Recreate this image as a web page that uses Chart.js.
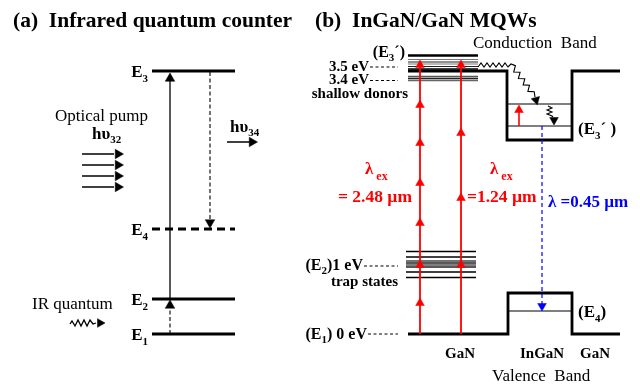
<!DOCTYPE html>
<html><head><meta charset="utf-8">
<script src="https://cdn.jsdelivr.net/npm/chart.js@4"></script>
<style>html,body{margin:0;padding:0;background:#fff}canvas{display:block}</style>
</head><body><canvas id="c" width="640" height="388"></canvas>
<script>
// ================= DATA (diagram units: x 0..640, y 0..388 downward) =================
// Panel (a): infrared quantum counter levels
const levelNamesA = ['3', '4', '2', '1'];           // E3, E4, E2, E1
const levelYA = [71, 229, 299, 334];
const levelDashedA = [false, true, false, false];
const levelSpanA = [152, 235];
const pumpArrowY = [154, 165, 176, 187];            // four optical-pump arrows
const pumpArrowX = [82, 114];
const emitArrowX = [227, 251];                       // h-nu34 arrow
const emitArrowY = 142;
const pumpTransitionX = 170;                         // E2 -> E3 (solid)
const emitTransitionX = 210;                         // E3 -> E4 (dashed)
const irWaveX = [70, 72, 75, 78, 81, 84, 87, 90, 93, 96];
const irWaveY = [324, 321, 326, 320, 326, 320, 326, 320, 324, 323];

// Panel (b): InGaN/GaN MQWs
const donorLineY = [55.5, 59.5, 62, 64, 66.5, 69, 76.5, 78.5, 80.5];
const donorLineShade = ['#000', '#777', '#222', '#777', '#222', '#000', '#555', '#222', '#666'];
const donorLineW = [2.5, 1.1, 1.2, 1.1, 1.2, 1.5, 1.6, 1.5, 1.4];
const trapLineY = [251.5, 257, 261, 263, 265, 267, 272, 277.5];
const trapLineShade = ['#000', '#000', '#444', '#222', '#555', '#222', '#000', '#000'];
const trapLineW = [1.3, 1.3, 1.6, 1.6, 1.6, 1.6, 1.3, 1.3];
const donorSpan = [408, 478];
const trapSpan = [406, 476];
const cbX = [408, 507, 507, 572, 572, 620];
const cbY = [71, 71, 140, 140, 71, 71];
const vbX = [408, 508, 508, 572, 572, 620];
const vbY = [334, 334, 293, 293, 334, 334];
const cbWellLevelY = [104, 126];
const vbWellLevelY = [311];
const wellSpan = [507, 572];
const ex248X = 420, ex124X = 461;
const ex248Tips = [60, 100, 138, 178, 218, 260, 298];   // 0.5 eV steps
const ex124Tips = [60, 128, 193, 260];                  // 1 eV steps
const exBottom = 334, exTop = 64;
const blueX = 542, blueTop = 126, blueTip = 311;
const wellRedX = 519;
const cbWaveX = [478, 481, 484, 487, 490, 493, 496, 499, 502, 505, 508, 511, 515.4, 513.7, 520.1, 518.4, 524.8, 523.2, 529.5, 527.9, 534.2, 535];
const cbWaveY = [67, 63, 67, 63, 67, 63, 67, 63, 67, 63, 67, 64, 65.7, 72, 72.2, 78.5, 78.7, 84.9, 85.2, 91.4, 91.7, 97];
const relaxWaveX = [548, 552, 547, 552, 547, 552, 553];
const relaxWaveY = [106, 108, 110, 112, 114, 116, 117];
const markerDashY = [67, 80.5, 266, 334];
const markerDashX0 = [370, 370, 364, 368];
const markerDashX1 = 398;

// ================= BUILD =================
const SERIF = "'Liberation Serif','Times New Roman',serif";
const B = s => `bold ${s}px ${SERIF}`;
const N = s => `${s}px ${SERIF}`;
const RED = '#ff0000', BLUE = '#0000ff';

const ds = [];
function line(xs, ys, color, w, dash) {
  ds.push({ data: xs.map((x, i) => ({ x, y: ys[i] })), showLine: true, borderColor: color,
    borderWidth: w, borderDash: dash || [], pointRadius: 0, fill: false, tension: 0,
    borderCapStyle: 'butt', borderJoinStyle: 'miter' });
}
function heads(pts, color, r, rot) {
  ds.push({ data: pts, showLine: false, pointStyle: 'triangle', pointRadius: r,
    pointRotation: rot, backgroundColor: color, borderColor: color, borderWidth: 0.5 });
}

// Panel (a)
levelYA.forEach((y, i) => line(levelSpanA, [y, y], '#000', 3, levelDashedA[i] ? [8, 5] : []));
line([pumpTransitionX, pumpTransitionX], [levelYA[2], levelYA[0] + 9], '#000', 1.3);
heads([{ x: pumpTransitionX, y: levelYA[0] + 2 + 5.5 }], '#000', 5.5, 0);
line([emitTransitionX, emitTransitionX], [levelYA[0] + 1, levelYA[1] - 8], '#000', 1.1, [4, 2.5]);
heads([{ x: emitTransitionX, y: levelYA[1] - 1 - 5.5 }], '#000', 5.5, 180);
line([pumpTransitionX, pumpTransitionX], [levelYA[3], levelYA[2] + 8], '#000', 1.1, [4, 2.5]);
heads([{ x: pumpTransitionX, y: levelYA[2] + 1 + 5.5 }], '#000', 5.5, 0);
pumpArrowY.forEach(y => line(pumpArrowX, [y, y], '#000', 1.5));
heads(pumpArrowY.map(y => ({ x: pumpArrowX[1] + 4, y })), '#000', 5.5, 90);
line(emitArrowX, [emitArrowY, emitArrowY], '#000', 1.5);
heads([{ x: emitArrowX[1] + 1, y: emitArrowY }], '#000', 5.5, 90);
line(irWaveX, irWaveY, '#000', 1.3);
heads([{ x: irWaveX[irWaveX.length - 1] + 4, y: irWaveY[irWaveY.length - 1] }], '#000', 5, 90);

// Panel (b)
donorLineY.forEach((y, i) => line(donorSpan, [y, y], donorLineShade[i], donorLineW[i]));
trapLineY.forEach((y, i) => line(trapSpan, [y, y], trapLineShade[i], trapLineW[i]));
line(cbX, cbY, '#000', 2.8);
line(vbX, vbY, '#000', 2.8);
cbWellLevelY.forEach(y => line(wellSpan, [y, y], '#000', 1.2));
vbWellLevelY.forEach(y => line(wellSpan, [y, y], '#000', 1.2));
markerDashY.forEach((y, i) => line([markerDashX0[i], markerDashX1], [y, y], '#000', 1, [3, 2.5]));
line(cbWaveX, cbWaveY, '#000', 1.1);
heads([{ x: 536, y: 100 }], '#000', 5, 165);
line(relaxWaveX, relaxWaveY, '#000', 1.1);
heads([{ x: 554, y: cbWellLevelY[1] - 6 }], '#000', 5, 180);
line([ex248X, ex248X], [exBottom, exTop], RED, 1.8);
line([ex124X, ex124X], [exBottom, exTop], RED, 1.8);
heads(ex248Tips.map(t => ({ x: ex248X, y: t + 5 })), RED, 5, 0);
heads(ex124Tips.map(t => ({ x: ex124X, y: t + 5 })), RED, 5, 0);
line([wellRedX, wellRedX], [cbWellLevelY[1], cbWellLevelY[0] + 8], RED, 1.6);
heads([{ x: wellRedX, y: cbWellLevelY[0] + 1 + 5 }], RED, 5, 0);
line([blueX, blueX], [blueTop, blueTip - 7], BLUE, 1.2, [4, 3]);
heads([{ x: blueX, y: blueTip - 5 }], BLUE, 5, 180);

// ================= TEXT =================
const texts = [
  { x: 13, y: 27, p: [['(a)  Infrared quantum counter', B(21.5)]] },
  { x: 315, y: 27, p: [['(b)  InGaN/GaN MQWs', B(21.5)]] },
  { x: 55, y: 121, p: [['Optical pump', N(17)]] },
  { x: 92, y: 139, p: [['h\u03c5', B(17)], ['32', B(11), 4]] },
  { x: 230, y: 132, p: [['h\u03c5', B(17)], ['34', B(11), 4]] },
  { x: 32, y: 309, p: [['IR quantum', N(17)]] },
  { x: 473, y: 48, p: [['Conduction  Band', N(17)]] },
  { x: 492, y: 381, p: [['Valence  Band', N(17)]] },
  { x: 405, y: 57, a: 'right', p: [['(E', B(16)], ['3', B(11), 4], ['\u00b4)', B(16)]] },
  { x: 369, y: 71, a: 'right', p: [['3.5 eV', B(15)]] },
  { x: 369, y: 84, a: 'right', p: [['3.4 eV', B(15)]] },
  { x: 408, y: 98, a: 'right', p: [['shallow donors', B(15)]] },
  { x: 363, y: 270, a: 'right', p: [['(E', B(16)], ['2', B(11), 4], [')1 eV', B(16)]] },
  { x: 398, y: 286, a: 'right', p: [['trap states', B(15)]] },
  { x: 367, y: 339, a: 'right', p: [['(E', B(16)], ['1', B(11), 4], [') 0 eV', B(16)]] },
  { x: 365, y: 174, c: RED, p: [['\u03bb', B(17)], [' ex', B(12), 6]] },
  { x: 338, y: 202, c: RED, p: [['= 2.48 \u00b5m', B(17.5)]] },
  { x: 490, y: 174, c: RED, p: [['\u03bb', B(17)], [' ex', B(12), 6]] },
  { x: 467, y: 202, c: RED, p: [['=1.24 \u00b5m', B(17.5)]] },
  { x: 548, y: 207, c: BLUE, p: [['\u03bb =0.45 \u00b5m', B(17)]] },
  { x: 578, y: 134, p: [['(E', B(17)], ['3', B(11), 5], ['\u00b4 )', B(17)]] },
  { x: 578, y: 317, p: [['(E', B(17)], ['4', B(11), 5], [')', B(17)]] },
  { x: 445, y: 358, p: [['GaN', B(15)]] },
  { x: 520, y: 358, p: [['InGaN', B(15)]] },
  { x: 580, y: 358, p: [['GaN', B(15)]] }
];
levelNamesA.forEach((n, i) => texts.push({ x: 148, y: levelYA[i] + 6, a: 'right', p: [['E', B(17)], [n, B(11), 5]] }));

const textPlugin = {
  id: 'diagramText',
  beforeDraw(chart) {
    const c = chart.ctx; c.save(); c.fillStyle = '#fff'; c.fillRect(0, 0, chart.width, chart.height); c.restore();
  },
  afterDatasetsDraw(chart) {
    const c = chart.ctx, sx = chart.scales.x, sy = chart.scales.y;
    c.save();
    c.textBaseline = 'alphabetic'; c.textAlign = 'left';
    texts.forEach(t => {
      let w = 0;
      t.p.forEach(([s, f]) => { c.font = f; w += c.measureText(s).width; });
      let x = sx.getPixelForValue(t.x); const y = sy.getPixelForValue(t.y);
      if (t.a === 'right') x -= w;
      c.fillStyle = t.c || '#000';
      t.p.forEach(([s, f, dy]) => { c.font = f; c.fillText(s, x, y + (dy || 0)); x += c.measureText(s).width; });
    });
    c.restore();
  }
};

// Chart.js paints dataset 0 last; reverse so later marks (arrows) sit on top.
new Chart(document.getElementById('c'), {
  type: 'scatter',
  data: { datasets: ds.slice().reverse() },
  options: {
    responsive: false, animation: false, events: [],
    layout: { padding: 0, autoPadding: false },
    plugins: { legend: { display: false }, tooltip: { enabled: false } },
    scales: {
      x: { type: 'linear', min: 0, max: 640, display: false },
      y: { type: 'linear', min: 0, max: 388, reverse: true, display: false }
    }
  },
  plugins: [textPlugin]
});
</script></body></html>
